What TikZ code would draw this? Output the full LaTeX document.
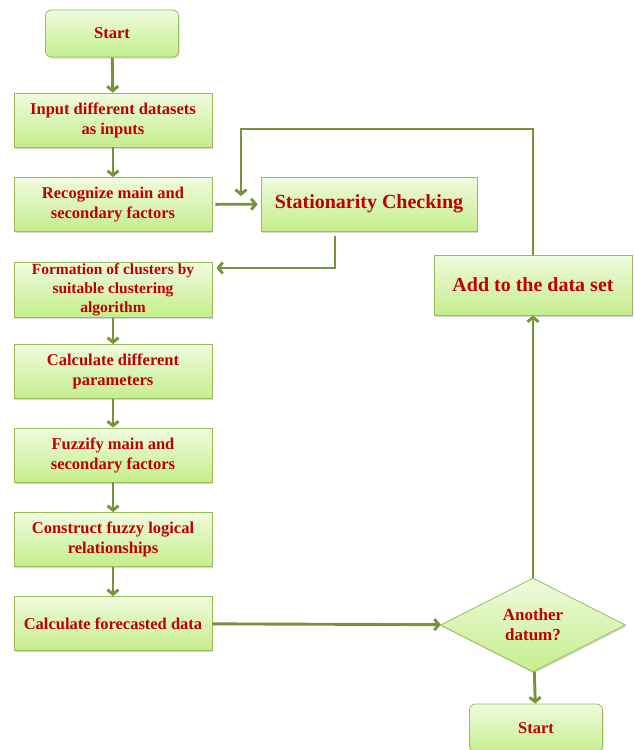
\documentclass[tikz,border=0pt]{standalone}
\usepackage{fontspec}
\setmainfont{Liberation Serif}
\usetikzlibrary{shapes.geometric, arrows.meta, shadows}

\definecolor{boxline}{HTML}{9BBB59}
\definecolor{boxtop}{HTML}{F0FBDF}
\definecolor{boxbot}{HTML}{C4EE8C}
\definecolor{flowgreen}{HTML}{77933C}
\definecolor{labelred}{HTML}{C00000}

\tikzset{
    stepbox/.style={draw=boxline, line width=0.8pt, top color=boxtop, bottom color=boxbot,
        text=labelred, align=center, inner sep=1pt, minimum width=198pt, minimum height=54pt,
        font=\bfseries\fontsize{16.5}{20}\selectfont,
        drop shadow={shadow xshift=1pt, shadow yshift=-1.5pt, opacity=0.3}},
    endbox/.style={stepbox, rounded corners=6pt, minimum width=133pt, minimum height=47pt},
    bigbox/.style={stepbox, font=\bfseries\fontsize{20}{24}\selectfont},
    decision/.style={stepbox, diamond, aspect=1.97, inner sep=0pt,
        minimum width=185pt, minimum height=94pt, font=\bfseries\fontsize{17}{20}\selectfont},
    flow/.style={draw=flowgreen, line width=2.9pt, -{Straight Barb[length=4.5pt, width=11pt]}}
}

\begin{document}
\begin{tikzpicture}
        \useasboundingbox[fill=white] (0pt, 0pt) rectangle (633pt, -750pt);

        % left column
        \node[endbox] (start) at (112pt, -33.5pt) {Start};
        \node[stepbox] (input) at (113pt, -120pt) {Input different datasets\\as inputs};
        \node[stepbox] (recognize) at (113pt, -204.5pt) {Recognize main and\\secondary factors};
        \node[stepbox, font=\bfseries\fontsize{15.5}{19}\selectfont] (cluster) at (113pt, -290pt)
            {Formation of clusters by\\suitable clustering\\algorithm};
        \node[stepbox] (params) at (113pt, -371.5pt) {Calculate different\\parameters};
        \node[stepbox] (fuzzify) at (113pt, -455pt) {Fuzzify main and\\secondary factors};
        \node[stepbox] (relations) at (113pt, -539.5pt) {Construct fuzzy logical\\relationships};
        \node[stepbox] (forecast) at (113pt, -623.5pt) {Calculate forecasted data};

        % right part
        \node[bigbox, minimum width=216pt] (station) at (369pt, -204pt) {Stationarity Checking};
        \node[bigbox, minimum height=60pt] (addset) at (533pt, -285pt) {Add to the data set};
        \node[decision] (another) at (533pt, -625pt) {Another\\datum?};
        \node[endbox, minimum height=48pt] (stop) at (536pt, -728pt) {Start};

        \coordinate (loop) at (241pt, -129pt);
        \coordinate (back) at (241pt, -196pt);

        \draw[flow] (start) -- (input);
        \draw[flow] (input) -- (recognize);
        \draw[flow, shorten <=3pt, shorten >=3pt] (recognize) -- (station);
        \draw[flow, shorten <=5pt, shorten >=4pt] ([xshift=-34pt]station.south) |- ([yshift=22pt]cluster.east);
        \draw[flow] (cluster) -- (params);
        \draw[flow] (params) -- (fuzzify);
        \draw[flow] (fuzzify) -- (relations);
        \draw[flow] (relations) -- (forecast);
        \draw[flow] (forecast) -- (another);
        \draw[flow] (another) -- (stop);
        \draw[flow] (another) -- (addset);
        \draw[flow] (addset) |- (loop) -- (back);
\end{tikzpicture}
\end{document}
